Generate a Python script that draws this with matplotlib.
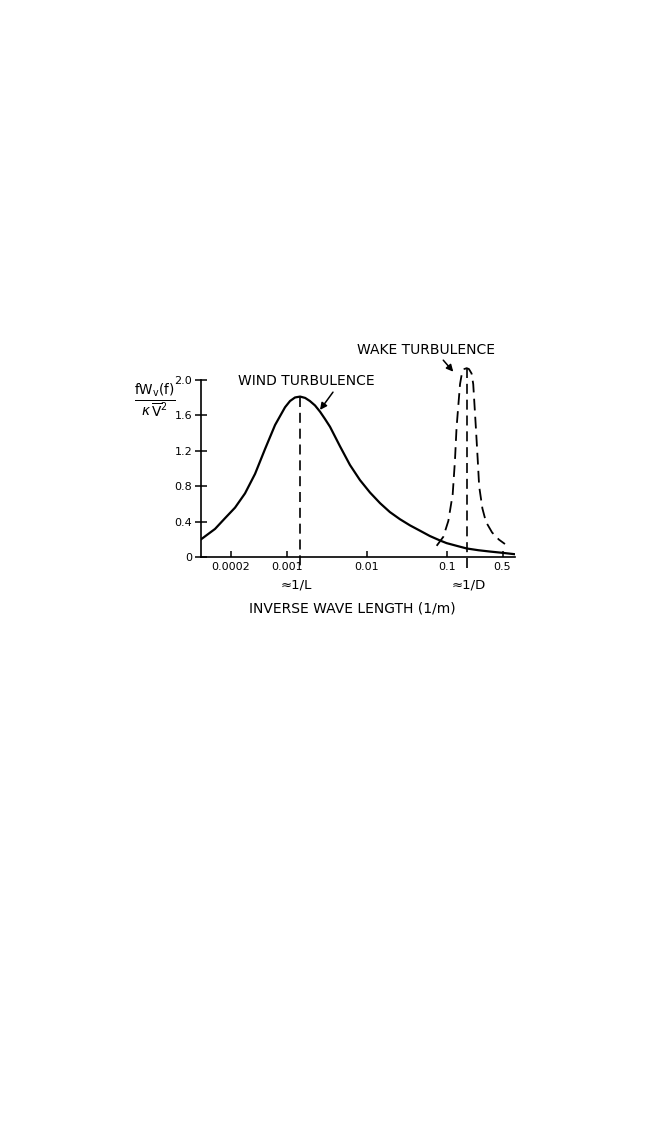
import matplotlib
matplotlib.use("Agg")
import matplotlib.pyplot as plt
import numpy as np

# values
wind_x = [8.4e-5, 1.27e-4, 1.69e-4, 2.26e-4, 3.01e-4, 4.02e-4, 5.36e-4, 7.15e-4,
          9.53e-4, 1.1e-3, 1.27e-3, 1.47e-3, 1.7e-3, 1.95e-3, 2.26e-3, 2.61e-3,
          3.0e-3, 3.48e-3, 4.64e-3, 6.18e-3, 8.24e-3, 0.011, 0.0147, 0.0195,
          0.026, 0.0348, 0.0464, 0.0617, 0.0825, 0.1, 0.133, 0.178, 0.25, 0.35,
          0.51, 0.715]
wind_y = [0.20, 0.32, 0.44, 0.56, 0.72, 0.94, 1.22, 1.49,
          1.69, 1.76, 1.80, 1.81, 1.795, 1.76, 1.71, 1.64,
          1.56, 1.47, 1.25, 1.04, 0.87, 0.73, 0.61, 0.51,
          0.43, 0.36, 0.30, 0.24, 0.19, 0.16, 0.13, 0.10, 0.08, 0.065,
          0.05, 0.035]

wake_x = [0.075, 0.0907, 0.105, 0.119, 0.127, 0.133, 0.147, 0.155, 0.166, 0.178,
          0.19, 0.205, 0.215, 0.232, 0.245, 0.255, 0.28, 0.31, 0.37, 0.45, 0.536]
wake_y = [0.13, 0.23, 0.41, 0.71, 1.09, 1.46, 1.95, 2.07, 2.12, 2.13,
          2.12, 2.07, 1.95, 1.46, 1.09, 0.80, 0.55, 0.40, 0.28, 0.20, 0.15]

inv_L = 0.00147
inv_D = 0.178
x_ticks = [0.0002, 0.001, 0.01, 0.1, 0.5]
x_ticklabels = ["0.0002", "0.001", "0.01", "0.1", "0.5"]
y_ticks = [0, 0.4, 0.8, 1.2, 1.6, 2.0]
y_ticklabels = ["0", "0.4", "0.8", "1.2", "1.6", "2.0"]

plt.rcParams['font.family'] = ['DejaVu Sans']

fig = plt.figure(figsize=(6.48, 11.23), dpi=100)
ax = fig.add_axes([0.3097, 0.5037, 0.4850, 0.1740])

ax.plot(wind_x, wind_y, color='black', lw=1.6, solid_joinstyle='round')
ax.plot(wake_x, wake_y, color='black', lw=1.3, dashes=(6.5, 3.5))

# vertical markers at 1/L and 1/D, running below the axis
ax.plot([inv_L, inv_L], [wind_y[wind_x.index(inv_L)], -0.12], color='black',
        lw=1.2, dashes=(6, 3.5), clip_on=False)
ax.plot([inv_D, inv_D], [wake_y[wake_x.index(inv_D)], -0.12], color='black',
        lw=1.2, dashes=(6, 3.5), clip_on=False)

ax.set_xscale('log')
ax.set_xlim(8.4e-5, 0.715)
ax.set_ylim(0, 2.2)

ax.spines['top'].set_visible(False)
ax.spines['right'].set_visible(False)
ax.spines['left'].set_bounds(0, 2.0)
ax.spines['left'].set_linewidth(1.2)
ax.spines['bottom'].set_linewidth(1.2)

ax.set_xticks(x_ticks)
ax.set_xticklabels(x_ticklabels, fontsize=8)
ax.xaxis.set_minor_locator(matplotlib.ticker.NullLocator())
ax.tick_params(axis='x', direction='in', length=4, width=1.1, pad=3)
ax.set_yticks(y_ticks)
ax.set_yticklabels(y_ticklabels, fontsize=8)
ax.tick_params(axis='y', direction='inout', length=8, width=1.1, pad=2)

# labels and arrows
ax.text(1.74e-3, 1.985, "WIND TURBULENCE", ha='center', va='center', fontsize=10)
ax.annotate("", xy=(2.61e-3, 1.66), xytext=(3.79e-3, 1.86),
            arrowprops=dict(arrowstyle='-|>', color='black', lw=1.1,
                            shrinkA=0, shrinkB=0, mutation_scale=10))
ax.text(0.0559, 2.334, "WAKE TURBULENCE", ha='center', va='center', fontsize=10,
        clip_on=False)
ax.annotate("", xy=(0.121, 2.09), xytext=(0.0907, 2.22), annotation_clip=False,
            arrowprops=dict(arrowstyle='-|>', color='black', lw=1.1,
                            shrinkA=0, shrinkB=0, mutation_scale=10))

ax.text(1.31e-3, -0.31, "≈1/L", ha='center', va='center', fontsize=9.5,
        clip_on=False)
ax.text(0.19, -0.31, "≈1/D", ha='center', va='center', fontsize=9.5,
        clip_on=False)
ax.text(0.481, -0.26, "INVERSE WAVE LENGTH (1/m)", transform=ax.transAxes,
        ha='center', va='center', fontsize=10)

fig.text(155 / 648, 1 - 401 / 1123,
         r'$\frac{\mathrm{fW_v(f)}}{\kappa\,\overline{\mathrm{V}}^{\mathrm{2}}}$',
         ha='center', va='center', fontsize=14)

fig.savefig("out.png", dpi=100)
